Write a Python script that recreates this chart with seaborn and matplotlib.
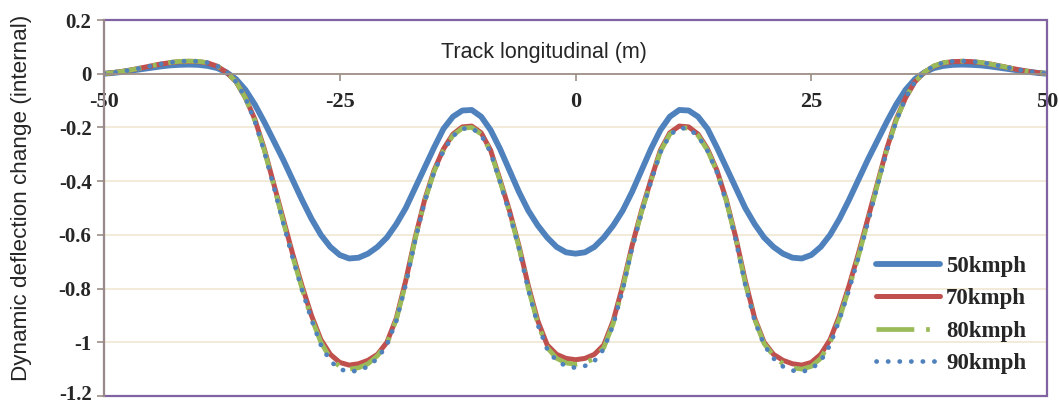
import numpy as np
import pandas as pd
import matplotlib
matplotlib.use("Agg")
import matplotlib.pyplot as plt
import matplotlib.patches as mpatches
import matplotlib.transforms as mtransforms
import seaborn as sns

# ---------------- data ----------------
x_pos = list(range(-50, 51))  # track longitudinal (m)

# left half, x = -50 .. 0 (1 m step); the right half mirrors it
left_50 = [0.000, 0.003, 0.007, 0.012, 0.017, 0.022, 0.027, 0.031, 0.033, 0.034,
           0.033, 0.029, 0.021, 0.005, -0.020, -0.060, -0.115, -0.180, -0.250, -0.320,
           -0.395, -0.470, -0.540, -0.600, -0.645, -0.675, -0.688, -0.685, -0.670, -0.645,
           -0.610, -0.560, -0.500, -0.425, -0.350, -0.275, -0.205, -0.160, -0.137, -0.135,
           -0.160, -0.210, -0.280, -0.360, -0.440, -0.510, -0.565, -0.610, -0.645, -0.665,
           -0.670]
left_70 = [0.000, 0.004, 0.009, 0.015, 0.022, 0.029, 0.036, 0.041, 0.045, 0.046,
           0.045, 0.040, 0.028, 0.005, -0.030, -0.090, -0.170, -0.280, -0.410, -0.540,
           -0.670, -0.790, -0.900, -0.990, -1.045, -1.075, -1.085, -1.080, -1.067, -1.045,
           -1.000, -0.910, -0.770, -0.610, -0.470, -0.360, -0.280, -0.225, -0.198, -0.195,
           -0.220, -0.285, -0.395, -0.510, -0.640, -0.790, -0.920, -1.010, -1.045, -1.060,
           -1.065]
left_80 = [0.000, 0.004, 0.009, 0.015, 0.022, 0.029, 0.036, 0.042, 0.046, 0.047,
           0.046, 0.041, 0.029, 0.006, -0.030, -0.090, -0.175, -0.285, -0.415, -0.550,
           -0.680, -0.800, -0.910, -1.000, -1.060, -1.090, -1.100, -1.095, -1.080, -1.050,
           -1.005, -0.915, -0.780, -0.615, -0.475, -0.365, -0.285, -0.230, -0.203, -0.200,
           -0.225, -0.290, -0.400, -0.515, -0.645, -0.800, -0.930, -1.020, -1.060, -1.077,
           -1.082]
left_90 = [0.000, 0.004, 0.009, 0.015, 0.022, 0.029, 0.036, 0.042, 0.046, 0.047,
           0.046, 0.041, 0.029, 0.006, -0.030, -0.090, -0.178, -0.290, -0.420, -0.555,
           -0.685, -0.805, -0.915, -1.010, -1.070, -1.100, -1.110, -1.105, -1.090, -1.060,
           -1.010, -0.920, -0.785, -0.620, -0.478, -0.367, -0.287, -0.232, -0.205, -0.202,
           -0.228, -0.293, -0.403, -0.520, -0.650, -0.805, -0.935, -1.025, -1.070, -1.088,
           -1.095]

v50 = left_50 + left_50[-2::-1]
v70 = left_70 + left_70[-2::-1]
v80 = left_80 + left_80[-2::-1]
v90 = left_90 + left_90[-2::-1]

series_names = ["50kmph", "70kmph", "80kmph", "90kmph"]
x_ticks = [-50, -25, 0, 25, 50]
x_ticklabels = ["-50", "-25", "0", "25", "50"]
y_ticks = [0.2, 0, -0.2, -0.4, -0.6, -0.8, -1.0, -1.2]
y_ticklabels = ["0.2", "0", "-0.2", "-0.4", "-0.6", "-0.8", "-1", "-1.2"]

# ---------------- figure ----------------
sns.set_theme(style="white")
plt.rcParams["font.family"] = ["Liberation Serif", "DejaVu Sans"]

fig = plt.figure(figsize=(10.59, 4.05), dpi=100)
ax = fig.add_axes([104 / 1059, 1 - 396 / 405, (1047 - 104) / 1059, (396 - 20) / 405])

df = pd.DataFrame({"x": x_pos, "50kmph": v50, "70kmph": v70, "80kmph": v80, "90kmph": v90})

styles = {
    "50kmph": dict(color="#4F81BD", lw=4.2, ls="-", solid_capstyle="round"),
    "70kmph": dict(color="#C0504D", lw=3.6, ls="-", solid_capstyle="round"),
    "80kmph": dict(color="#9BBB59", lw=3.4, ls=(0, (8, 2.5, 0.8, 2.5))),
    "90kmph": dict(color="#4F81BD", lw=3.4, ls=(0, (0.05, 2.4)), dash_capstyle="round"),
}

for name in series_names:
    sns.lineplot(data=df, x="x", y=name, ax=ax, label=name, **styles[name])

ax.set_xlim(-50, 50)
ax.set_ylim(-1.2, 0.2)

# grid
for yv in y_ticks:
    if yv not in (0, 0.2, -1.2):
        ax.axhline(yv, color="#F1E9D6", lw=1.3, zorder=0)

# spines
for s in ["top", "right"]:
    ax.spines[s].set_visible(False)
ax.spines["bottom"].set_position(("data", 0))
ax.spines["bottom"].set_color("#9C8F86")
ax.spines["bottom"].set_linewidth(1.3)
ax.spines["left"].set_color("#9C8F86")
ax.spines["left"].set_linewidth(1.3)
ax.spines["left"].set_zorder(5)

frame = mpatches.Rectangle((0, 0), 1, 1, transform=ax.transAxes, fill=False,
                           edgecolor="#8064A2", lw=1.6, clip_on=False, zorder=4)
ax.add_patch(frame)

ax.set_xticks(x_ticks)
ax.set_xticklabels(x_ticklabels, fontsize=16, fontweight="bold")
ax.set_yticks(y_ticks)
ax.set_yticklabels(y_ticklabels, fontsize=15, fontweight="bold")
ax.tick_params(axis="x", direction="out", length=5, width=1.2, color="#9C8F86", pad=8, bottom=True)
ax.tick_params(axis="y", direction="out", length=5, width=1.2, color="#9C8F86", pad=4, left=True)

# nudge the bottom-most y tick label up slightly so it stays inside the image
last_lbl = ax.get_yticklabels()[-1]
last_lbl.set_transform(last_lbl.get_transform() +
                       mtransforms.ScaledTranslation(0, 3 / 100, fig.dpi_scale_trans))

ax.set_xlabel("")
ax.set_ylabel("Dynamic deflection change (internal)", family=["Liberation Sans"], fontsize=16.2)
ax.yaxis.set_label_coords(-0.076, 0.528)
ax.text(-3.3, 0.078, "Track longitudinal (m)", family=["Liberation Sans"], fontsize=15.5,
        ha="center", va="center")

leg = ax.legend(loc="lower right", bbox_to_anchor=(0.99, 0.027), frameon=False,
                prop={"family": "Liberation Serif", "weight": "bold", "size": 16.5},
                handlelength=2.8, handletextpad=0.25, labelspacing=0.5, borderpad=0)

fig.savefig("out.png", dpi=100)
